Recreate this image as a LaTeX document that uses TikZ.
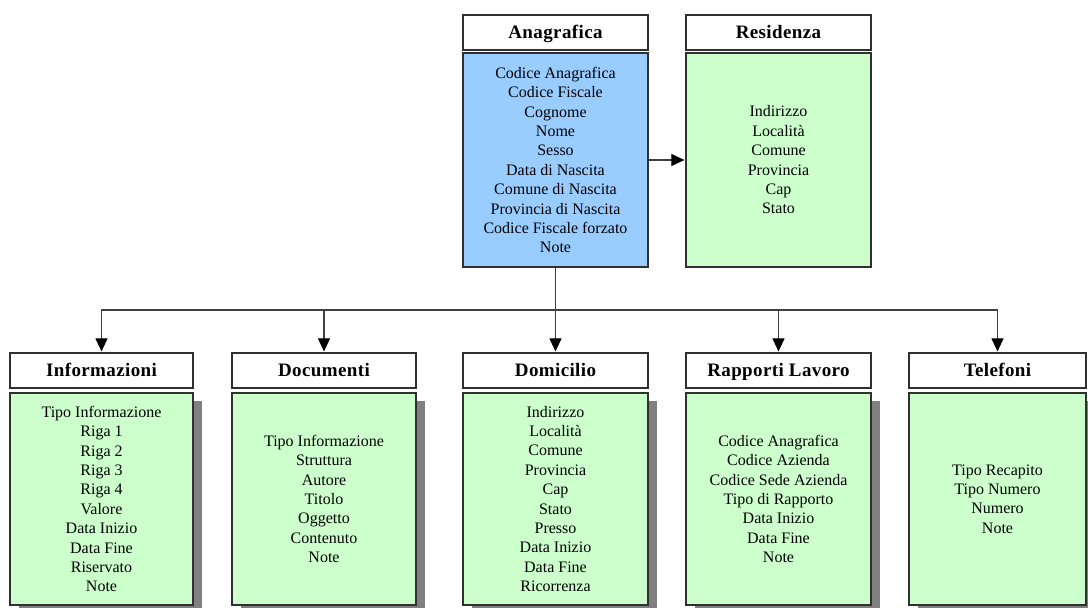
\documentclass[tikz,border=0pt]{standalone}
\usepackage{fontspec}
\setmainfont{Liberation Serif}
\usetikzlibrary{arrows.meta,shadows}
\definecolor{boxline}{HTML}{303030}
\definecolor{lineclr}{HTML}{404040}
\definecolor{sky}{HTML}{99CCFF}
\definecolor{leaf}{HTML}{CCFFCC}
\definecolor{shade}{HTML}{808080}
\begin{document}
\begin{tikzpicture}[x=1pt,y=-1pt,
  head/.style={draw=boxline, line width=1.2pt, fill=white, minimum height=35pt,
    inner sep=0pt, text height=14pt, text depth=2pt,
    font=\fontsize{19}{22}\selectfont\bfseries\addfontfeature{LetterSpace=2}},
  body/.style={draw=boxline, line width=1.2pt, fill=leaf, align=center,
    inner sep=0pt, font=\fontsize{16}{19.4}\selectfont},
  shadowed/.style={drop shadow={shadow xshift=9pt, shadow yshift=-8pt,
    fill=shade, opacity=1}},
  conn/.style={draw=lineclr, line width=1.1pt},
  arr/.style={conn, -{Triangle[length=13pt,width=12pt,color=black]}, shorten >=1pt}
]
\useasboundingbox (0,0) rectangle (1088,608);

% main record and its residence
\node[head, minimum width=185pt] (anaH) at (555.5,32.5) {Anagrafica};
\node[body, fill=sky, minimum width=185pt, minimum height=214pt] (anaB) at (555.5,160)
  {Codice Anagrafica\\Codice Fiscale\\Cognome\\Nome\\Sesso\\Data di Nascita\\Comune di Nascita\\Provincia di Nascita\\Codice Fiscale forzato\\Note};

\node[head, minimum width=185pt] (resH) at (778.5,32.5) {Residenza};
\node[body, minimum width=185pt, minimum height=214pt] (resB) at (778.5,160)
  {Indirizzo\\Località\\Comune\\Provincia\\Cap\\Stato};

% detail tables
\node[head, minimum width=183pt] (infH) at (101.5,370.5) {Informazioni};
\node[body, shadowed, minimum width=183pt, minimum height=212pt] (infB) at (101.5,499)
  {Tipo Informazione\\Riga 1\\Riga 2\\Riga 3\\Riga 4\\Valore\\Data Inizio\\Data Fine\\Riservato\\Note};

\node[head, minimum width=184pt] (docH) at (324,370.5) {Documenti};
\node[body, shadowed, minimum width=184pt, minimum height=212pt] (docB) at (324,499)
  {Tipo Informazione\\Struttura\\Autore\\Titolo\\Oggetto\\Contenuto\\Note};

\node[head, minimum width=185pt] (domH) at (555.5,370.5) {Domicilio};
\node[body, shadowed, minimum width=185pt, minimum height=212pt] (domB) at (555.5,499)
  {Indirizzo\\Località\\Comune\\Provincia\\Cap\\Stato\\Presso\\Data Inizio\\Data Fine\\Ricorrenza};

\node[head, minimum width=185pt] (rapH) at (778.5,370.5) {Rapporti Lavoro};
\node[body, shadowed, minimum width=185pt, minimum height=212pt] (rapB) at (778.5,499)
  {Codice Anagrafica\\Codice Azienda\\Codice Sede Azienda\\Tipo di Rapporto\\Data Inizio\\Data Fine\\Note};

\node[head, minimum width=177pt] (telH) at (997.5,370.5) {Telefoni};
\node[body, shadowed, minimum width=177pt, minimum height=212pt] (telB) at (997.5,499)
  {Tipo Recapito\\Tipo Numero\\Numero\\Note};

% connectors
\draw[arr] (anaB.east) -- (resB.west);
\draw[arr] (anaB.south) -- (domH.north);
\coordinate (bus) at (555.5,310);
\draw[arr] (bus) -| (infH.north);
\draw[arr] (bus) -| (docH.north);
\draw[arr] (bus) -| (rapH.north);
\draw[arr] (bus) -| (telH.north);
\end{tikzpicture}
\end{document}
